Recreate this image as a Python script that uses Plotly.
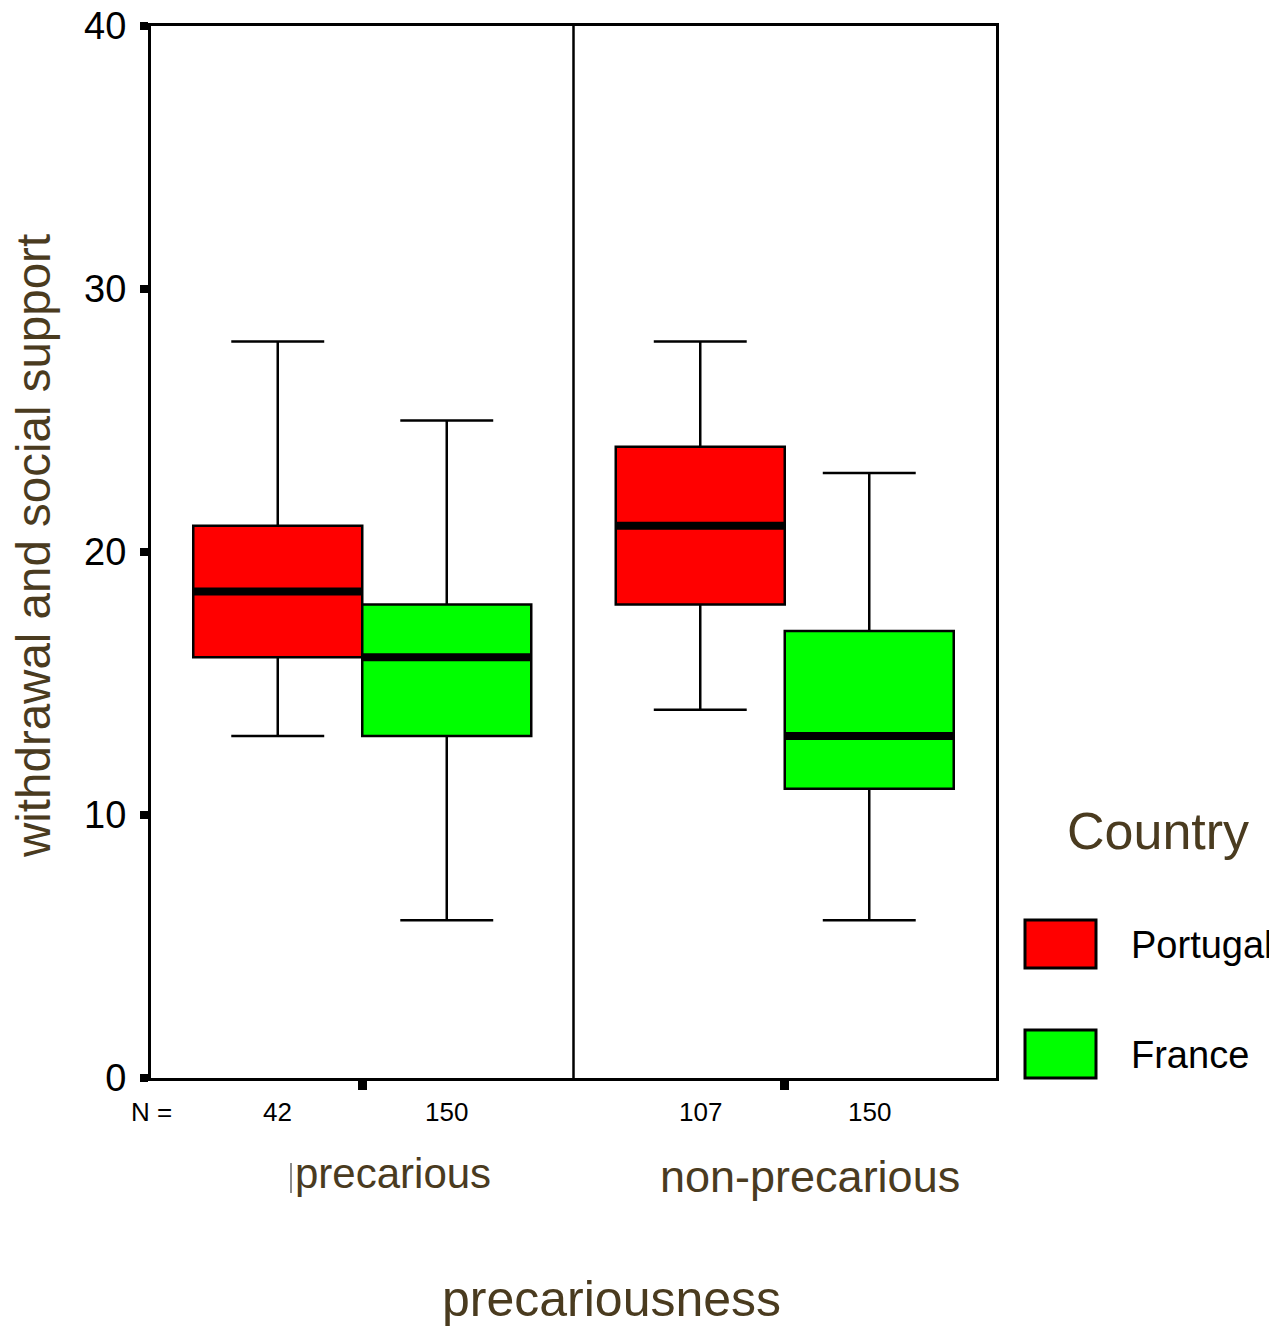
import plotly.graph_objects as go

# ---- data ----
groups = ["precarious", "non-precarious"]
countries = ["Portugal", "France"]
colors = ["#ff0000", "#00ff00"]
n_counts = {"Portugal": [42, 107], "France": [150, 150]}
lower = {"Portugal": [13, 14], "France": [6, 6]}
q1 = {"Portugal": [16, 18], "France": [13, 11]}
median = {"Portugal": [18.5, 21], "France": [16, 13]}
q3 = {"Portugal": [21, 24], "France": [18, 17]}
upper = {"Portugal": [28, 28], "France": [25, 23]}
y_ticks = [0, 10, 20, 30, 40]

# ---- layout constants (screen px of plot frame: x 150..995, y 25..1077) ----
OFF = 7  # page body offset
W, H = 1277 - OFF, 1329 - OFF
L, T = 150 - OFF, 25 - OFF
R = W - (995 - OFF)
B = H - (1077 - OFF)
PW, PH = 995 - 150, 1077 - 25
group_pos = [1.25, 3.75]
offsets = [-0.5, 0.5]
box_w = 1.0
brown = "#4a3b1f"
FONT = "Liberation Sans, Arial, sans-serif"

def px_x(px):
    return (px - 150) / PW

def px_y(py):
    return (1077 - py) / PH

def note(x, y, text, size, color, xref="paper", xanchor="center", angle=0):
    fig.add_annotation(x=x, y=y, xref=xref, yref="paper", text=text,
                       showarrow=False, xanchor=xanchor, yanchor="middle",
                       textangle=angle,
                       font=dict(size=size, color=color, family=FONT))

fig = go.Figure()

for ci, c in enumerate(countries):
    xs = [g + offsets[ci] for g in group_pos]
    fig.add_trace(go.Box(
        x=xs, q1=q1[c], median=median[c], q3=q3[c],
        lowerfence=lower[c], upperfence=upper[c],
        width=box_w, whiskerwidth=0.55, boxpoints=False,
        fillcolor=colors[ci], line=dict(color="black", width=2.5),
        name=c, showlegend=False, hoverinfo="skip",
    ))
    # thick median lines
    mx, my = [], []
    for x, m in zip(xs, median[c]):
        mx += [x - box_w / 2, x + box_w / 2, None]
        my += [m, m, None]
    fig.add_trace(go.Scatter(x=mx, y=my, mode="lines",
                             line=dict(color="black", width=8),
                             showlegend=False, hoverinfo="skip"))
    # N labels
    for x, n in zip(xs, n_counts[c]):
        note(x, px_y(1111), str(n), 26, "black", xref="x")

note(px_x(150), px_y(1111), "N =", 26, "black")

# divider between groups
fig.add_shape(type="line", x0=sum(group_pos) / 2, x1=sum(group_pos) / 2,
              y0=0, y1=1, xref="x", yref="paper",
              line=dict(color="black", width=2.5))

# group labels and axis titles
note(px_x(392), px_y(1172), groups[0], 42, brown)
fig.add_shape(type="line", xref="paper", yref="paper",
              x0=px_x(290), x1=px_x(290), y0=px_y(1192), y1=px_y(1162),
              line=dict(color="#666666", width=1.5))
note(px_x(809), px_y(1176), groups[1], 45, brown)
note(px_x(610), px_y(1298), "precariousness", 50, brown)
note(px_x(32), px_y(545), "withdrawal and social support", 47.5, brown, angle=-90)

# legend (manual)
note(px_x(1157), px_y(830), "Country", 52, brown)
for ci, (c, top) in enumerate(zip(countries, [919, 1029])):
    fig.add_shape(type="rect", xref="paper", yref="paper",
                  x0=px_x(1024), x1=px_x(1095), y0=px_y(top + 48), y1=px_y(top),
                  fillcolor=colors[ci], line=dict(color="black", width=3))
    note(px_x(1128), px_y(top + 25), c, 38, "black", xanchor="left")

fig.update_layout(
    width=W, height=H,
    margin=dict(l=L, r=R, t=T, b=B, autoexpand=False),
    paper_bgcolor="white", plot_bgcolor="white",
    hovermode=False,
    xaxis=dict(range=[0, 5], tickvals=group_pos, ticktext=["", ""],
               ticks="outside", ticklen=9, tickwidth=9, tickcolor="black",
               showline=True, linecolor="black", linewidth=3, mirror=True,
               showgrid=False, zeroline=False, fixedrange=True,
               automargin=False),
    yaxis=dict(range=[0, 40], tickvals=y_ticks,
               ticks="outside", ticklen=8, tickwidth=8, tickcolor="black",
               ticklabelstandoff=6, ticklabeloverflow="allow",
               showline=True, linecolor="black", linewidth=3, mirror=True,
               showgrid=False, zeroline=False, fixedrange=True,
               automargin=False,
               tickfont=dict(size=38, color="black", family=FONT)),
)

fig.write_html("out.html")
